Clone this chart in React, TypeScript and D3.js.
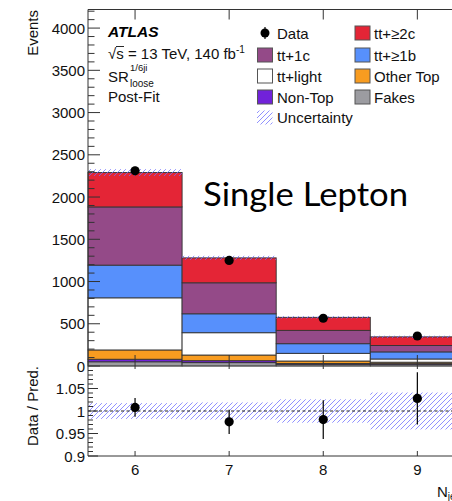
import React from "react";
import * as d3 from "d3";

const bins = [6, 7, 8, 9];
const fakes = [50, 40, 20, 20];
const nonTop = [30, 23, 10, 8];
const otherTop = [110, 67, 29, 17];
const ttLight = [617, 264, 91, 38];
const tt1b = [387, 224, 114, 84];
const tt1c = [689, 367, 158, 76];
const tt2c = [407, 295, 154, 102];
const dataCounts = [2310, 1250, 565, 355];
const ratioVals = [1.008, 0.976, 0.981, 1.028];
const ratioErr = [0.021, 0.027, 0.043, 0.058];
const relUnc = [0.0175, 0.019, 0.026, 0.041];
const mainTicks = [0, 500, 1000, 1500, 2000, 2500, 3000, 3500, 4000];
const ratioTicks = [0.9, 0.95, 1, 1.05];
const ratioTickLabels = ["0.9", "0.95", "1", "1.05"];

const layers = [
  { name: "Fakes", vals: fakes, color: "#9c9ca1" },
  { name: "Non-Top", vals: nonTop, color: "#7122d9" },
  { name: "Other Top", vals: otherTop, color: "#f89c20" },
  { name: "tt+light", vals: ttLight, color: "#ffffff" },
  { name: "tt+≥1b", vals: tt1b, color: "#5790fc" },
  { name: "tt+1c", vals: tt1c, color: "#944a88" },
  { name: "tt+≥2c", vals: tt2c, color: "#e42536" },
];

const legendCol1 = [
  { name: "Data", type: "data" },
  { name: "tt+1c", color: "#944a88" },
  { name: "tt+light", color: "#ffffff" },
  { name: "Non-Top", color: "#7122d9" },
  { name: "Uncertainty", type: "unc" },
];
const legendCol2 = [
  { name: "tt+≥2c", color: "#e42536" },
  { name: "tt+≥1b", color: "#5790fc" },
  { name: "Other Top", color: "#f89c20" },
  { name: "Fakes", color: "#9c9ca1" },
];

const W = 452, H = 501;
const L = 88, R = 464.4;
const mTop = 9.5, mBot = 366, rTop = 366, rBot = 456;
const FONT = "'Liberation Sans', Arial, Helvetica, sans-serif";

export default function App() {
  const x = d3.scaleLinear().domain([5.5, 9.5]).range([L, R]);
  const y = d3.scaleLinear().domain([0, 4220]).range([mBot, mTop]);
  const yr = d3.scaleLinear().domain([0.9, 1.1]).range([rBot, rTop]);

  const stacks = bins.map((_, i) => {
    let acc = 0;
    return layers.map((l) => {
      const y0 = acc;
      acc += l.vals[i];
      return { y0, y1: acc, color: l.color };
    });
  });
  const pred = stacks.map((s) => s[s.length - 1].y1);

  const minorMain = d3.range(0, 4201, 100).filter((v) => v % 500 !== 0);
  const minorRatio = d3.range(0.9, 1.1001, 0.01).filter((v) => Math.abs(v * 20 - Math.round(v * 20)) > 1e-6);

  const rowY1 = [33, 55, 76, 97, 117.5];
  const rowY2 = [33, 55, 76, 97];

  return (
    <svg width={W} height={H} style={{ position: "absolute", left: 0, top: 0, background: "#fff" }} fontFamily={FONT}>
      <defs>
        <pattern id="hatch" patternUnits="userSpaceOnUse" width="5" height="5">
          <path d="M-1,6 L6,-1" stroke="#6f6fff" strokeWidth="0.9" opacity="0.85" />
          <path d="M-1,1 L1,-1 M4,6 L6,4" stroke="#6f6fff" strokeWidth="0.9" opacity="0.85" />
        </pattern>
        <clipPath id="clipMain">
          <rect x={L} y={mTop} width={R - L} height={mBot - mTop} />
        </clipPath>
      </defs>

      {/* stacked histogram */}
      {bins.map((b, i) => (
        <g key={b}>
          {stacks[i].map((s, j) =>
            s.y1 - s.y0 > 0 ? (
              <rect key={j} x={x(b - 0.5)} width={x(b + 0.5) - x(b - 0.5)} y={y(s.y1)} height={y(s.y0) - y(s.y1)}
                fill={s.color} stroke="#333" strokeWidth={0.9} />
            ) : null
          )}
        </g>
      ))}
      {/* uncertainty band main */}
      {bins.map((b, i) => (
        <rect key={"u" + b} x={x(b - 0.5)} width={x(b + 0.5) - x(b - 0.5)} y={y(pred[i] * (1 + relUnc[i]))}
          height={y(pred[i] * (1 - relUnc[i])) - y(pred[i] * (1 + relUnc[i]))} fill="url(#hatch)" />
      ))}
      {/* data main */}
      {bins.map((b, i) => (
        <g key={"d" + b}>
          <line x1={x(b)} x2={x(b)} y1={y(dataCounts[i] + Math.sqrt(dataCounts[i]))} y2={y(dataCounts[i] - Math.sqrt(dataCounts[i]))} stroke="#000" strokeWidth={1.2} />
          <circle cx={x(b)} cy={y(dataCounts[i])} r={4.6} fill="#000" />
        </g>
      ))}

      {/* main frame */}
      <line x1={L} x2={W} y1={mTop} y2={mTop} stroke="#333" strokeWidth={1} />
      <line x1={L} x2={L} y1={mTop} y2={rBot} stroke="#333" strokeWidth={1} />
      <line x1={L} x2={W} y1={mBot} y2={mBot} stroke="#555" strokeWidth={0.8} />
      {mainTicks.map((t) => (
        <g key={"mt" + t}>
          <line x1={L} x2={L + 12} y1={y(t)} y2={y(t)} stroke="#333" strokeWidth={1} />
          <text x={85} y={y(t) + 5.5} fontSize={15} textAnchor="end" fill="#111">{t}</text>
        </g>
      ))}
      {minorMain.map((t) => (
        <line key={"mm" + t} x1={L} x2={L + 6.5} y1={y(t)} y2={y(t)} stroke="#333" strokeWidth={1} />
      ))}
      {bins.map((b) => (
        <g key={"xt" + b}>
          <line x1={x(b)} x2={x(b)} y1={mTop} y2={mTop + 10} stroke="#333" strokeWidth={1} />
          <line x1={x(b)} x2={x(b)} y1={mBot - 11} y2={mBot + 3} stroke="#333" strokeWidth={1} />
        </g>
      ))}

      {/* ratio panel */}
      {bins.map((b, i) => (
        <rect key={"ru" + b} x={x(b - 0.5)} width={x(b + 0.5) - x(b - 0.5)} y={yr(1 + relUnc[i])}
          height={yr(1 - relUnc[i]) - yr(1 + relUnc[i])} fill="url(#hatch)" />
      ))}
      <line x1={L} x2={W} y1={yr(1)} y2={yr(1)} stroke="#222" strokeWidth={1} strokeDasharray="3,2.5" />
      {bins.map((b, i) => (
        <g key={"rd" + b}>
          <line x1={x(b)} x2={x(b)} y1={yr(ratioVals[i] + ratioErr[i])} y2={yr(ratioVals[i] - ratioErr[i])} stroke="#000" strokeWidth={1.2} />
          <circle cx={x(b)} cy={yr(ratioVals[i])} r={4.6} fill="#000" />
        </g>
      ))}
      <line x1={L} x2={W} y1={rBot} y2={rBot} stroke="#333" strokeWidth={1} />
      {ratioTicks.map((t, k) => (
        <g key={"rt" + t}>
          <line x1={L} x2={L + 10} y1={yr(t)} y2={yr(t)} stroke="#333" strokeWidth={1} />
          <text x={85} y={yr(t) + 5.5} fontSize={15} textAnchor="end" fill="#111">{ratioTickLabels[k]}</text>
        </g>
      ))}
      {minorRatio.map((t) => (
        <line key={"rm" + t.toFixed(2)} x1={L} x2={L + 5} y1={yr(t)} y2={yr(t)} stroke="#333" strokeWidth={1} />
      ))}
      {bins.map((b) => (
        <g key={"rx" + b}>
          <line x1={x(b)} x2={x(b)} y1={rBot - 5} y2={rBot} stroke="#333" strokeWidth={1} />
          <text x={x(b)} y={475} fontSize={15} textAnchor="middle" fill="#111">{b}</text>
        </g>
      ))}

      {/* axis titles */}
      <text transform={`translate(38,10) rotate(-90)`} fontSize={15} textAnchor="end" fill="#111">Events</text>
      <text transform={`translate(38,406) rotate(-90)`} fontSize={15} textAnchor="middle" fill="#111">Data / Pred.</text>
      <text x={437} y={497} fontSize={15} fill="#111">N<tspan fontSize={10} dy={3}>jets</tspan></text>

      {/* ATLAS labels */}
      <text x={108} y={37} fontSize={15.5} fontWeight="bold" fontStyle="italic" fill="#000">ATLAS</text>
      <text x={108} y={58.5} fontSize={15} fill="#111">√s = 13 TeV, 140 fb<tspan fontSize={10} dy={-6}>-1</tspan></text>
      <line x1={116} x2={124} y1={46.5} y2={46.5} stroke="#111" strokeWidth={0.9} />
      <text x={108} y={81.5} fontSize={15} fill="#111">SR</text>
      <text x={130} y={71} fontSize={9.5} fill="#111">1/6ji</text>
      <text x={130} y={86.5} fontSize={10} fill="#111">loose</text>
      <text x={108} y={102} fontSize={15} fill="#111">Post-Fit</text>

      {/* legend */}
      {legendCol1.map((e: any, k) => (
        <g key={"l1" + k}>
          {e.type === "data" ? (
            <g>
              <line x1={265} x2={265} y1={rowY1[k] - 6} y2={rowY1[k] + 6} stroke="#000" strokeWidth={1.2} />
              <circle cx={265} cy={rowY1[k]} r={4.5} fill="#000" />
            </g>
          ) : e.type === "unc" ? (
            <rect x={257} y={rowY1[k] - 7} width={15.5} height={14} fill="url(#hatch)" />
          ) : (
            <rect x={257.5} y={rowY1[k] - 7} width={15} height={14} fill={e.color} stroke="#555" strokeWidth={1} />
          )}
          <text x={277} y={rowY1[k] + 5.5} fontSize={15} fill="#111">{e.name}</text>
        </g>
      ))}
      {legendCol2.map((e, k) => (
        <g key={"l2" + k}>
          <rect x={355} y={rowY2[k] - 7} width={15} height={14} fill={e.color} stroke="#555" strokeWidth={1} />
          <text x={374} y={rowY2[k] + 5.5} fontSize={15} fill="#111">{e.name}</text>
        </g>
      ))}

      {/* overlay title */}
      <text x={203} y={206} fontSize={32} fontFamily="Lato, 'Open Sans', sans-serif" textLength={205} lengthAdjust="spacingAndGlyphs" fill="#000">Single Lepton</text>
    </svg>
  );
}
